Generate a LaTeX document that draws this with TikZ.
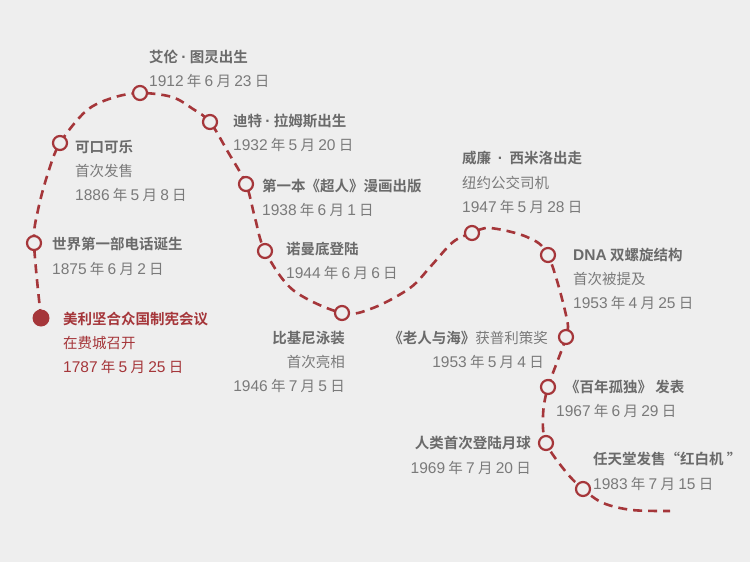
\documentclass[tikz,border=0pt]{standalone}
\usepackage{fontspec}
\setmainfont{Noto Sans CJK SC}[BoldFont={Noto Sans CJK SC Bold}]
\newfontfamily\latin{Liberation Sans}[Scale=1.07]
\newcommand\dte[3]{{\latin #1} 年 {\latin #2} 月 {\latin #3} 日}
\newcommand\mdot{{\latin ·}}
\definecolor{bg}{HTML}{EEEEEE}
\definecolor{tred}{HTML}{A5363A}
\definecolor{tgray}{HTML}{6A6A6A}
\definecolor{dgray}{HTML}{7A7A7A}
\begin{document}
\begin{tikzpicture}[x=1pt,y=-1pt,
  ttl/.style={font=\fontsize{14.5}{17}\selectfont\bfseries, text=tgray, inner sep=0pt, anchor=west},
  sub/.style={font=\fontsize{14.5}{17}\selectfont, text=dgray, inner sep=0pt, anchor=west},
  rttl/.style={ttl, anchor=east},
  rsub/.style={sub, anchor=east},
  redttl/.style={ttl, text=tred},
  redsub/.style={sub, text=tred},
  evt/.style={circle, draw=tred, line width=2.2pt, fill=bg, minimum size=14pt, inner sep=0pt},
  startevt/.style={circle, fill=tred, minimum size=17pt, inner sep=0pt},
  curve/.style={draw=tred, line width=2.6pt, dash pattern=on 9pt off 6pt}]
\fill[bg] (0,0) rectangle (750,562);
\useasboundingbox (0,0) rectangle (750,562);
% marker centres
\coordinate (c0) at (41,318);
\coordinate (c1) at (34,243);
\coordinate (c2) at (60,143);
\coordinate (c3) at (140,93);
\coordinate (c4) at (210,122);
\coordinate (c5) at (246,184);
\coordinate (c6) at (265,251);
\coordinate (c7) at (342,313);
\coordinate (c8) at (472,233);
\coordinate (c9) at (548,255);
\coordinate (c10) at (566,337);
\coordinate (c11) at (548,387);
\coordinate (c12) at (546,443);
\coordinate (c13) at (583,489);
\coordinate (cend) at (670,511);
% way points along the curve
\coordinate (wa) at (38,210);
\coordinate (wb) at (48,173);
\coordinate (wp) at (86,111);
\coordinate (wq) at (112,98);
\coordinate (wr) at (172,97);
\coordinate (ws) at (193,109);
\coordinate (wt) at (228,152);
\coordinate (wu) at (255,218);
\coordinate (wc) at (293,290);
\coordinate (wd) at (373,308);
\coordinate (we) at (410,288);
\coordinate (wf) at (431,266);
\coordinate (wg) at (453,242);
\coordinate (wh) at (490,228);
\coordinate (wi) at (527,237);
\coordinate (wj) at (566,315);
\coordinate (wk) at (543,416);
\coordinate (wl) at (566,472);
\coordinate (wm) at (603,503);
\coordinate (wn) at (632,510);
\draw[curve] plot[smooth, tension=0.55] coordinates {(c0) (c1) (wa) (wb) (c2) (wp) (wq) (c3) (wr) (ws) (c4) (wt) (c5) (wu) (c6) (wc) (c7) (wd) (we) (wf) (wg) (c8) (wh) (wi) (c9) (wj) (c10) (c11) (wk) (c12) (wl) (c13) (wm) (wn) (cend)};
% markers
\node[startevt] (m0) at (c0) {};
\node[evt] (m1) at (c1) {};
\node[evt] (m2) at (c2) {};
\node[evt] (m3) at (c3) {};
\node[evt] (m4) at (c4) {};
\node[evt] (m5) at (c5) {};
\node[evt] (m6) at (c6) {};
\node[evt] (m7) at (c7) {};
\node[evt] (m8) at (c8) {};
\node[evt] (m9) at (c9) {};
\node[evt] (m10) at (c10) {};
\node[evt] (m11) at (c11) {};
\node[evt] (m12) at (c12) {};
\node[evt] (m13) at (c13) {};
% labels
\node[redttl] (t0) at (63,319) {美利坚合众国制宪会议};
\node[redsub] (s0a) at (63,343) {在费城召开};
\node[redsub] (s0b) at (63,367) {\dte{1787}{5}{25}};

\node[ttl] (t1) at (52,244) {世界第一部电话诞生};
\node[sub] (s1) at (52,269) {\dte{1875}{6}{2}};

\node[ttl] (t2) at (75,147) {可口可乐};
\node[sub] (s2a) at (75,171) {首次发售};
\node[sub] (s2b) at (75,195) {\dte{1886}{5}{8}};

\node[ttl] (t3) at (149,57) {艾伦 \mdot\ 图灵出生};
\node[sub] (s3) at (149,81) {\dte{1912}{6}{23}};

\node[ttl] (t4) at (233,121) {迪特 \mdot\ 拉姆斯出生};
\node[sub] (s4) at (233,145) {\dte{1932}{5}{20}};

\node[ttl] (t5) at (262,186) {第一本《超人》漫画出版};
\node[sub] (s5) at (262,210) {\dte{1938}{6}{1}};

\node[ttl] (t6) at (286,249) {诺曼底登陆};
\node[sub] (s6) at (286,273) {\dte{1944}{6}{6}};

\node[rttl] (t7) at (345,338) {比基尼泳装};
\node[rsub] (s7a) at (345,362) {首次亮相};
\node[rsub] (s7b) at (345,386) {\dte{1946}{7}{5}};

\node[ttl] (t8) at (462,158) {威廉 \ \mdot\ \ 西米洛出走};
\node[sub] (s8a) at (462,183) {纽约公交司机};
\node[sub] (s8b) at (462,207) {\dte{1947}{5}{28}};

\node[ttl] (t9) at (573,255) {{\latin DNA} 双螺旋结构};
\node[sub] (s9a) at (573,279) {首次被提及};
\node[sub] (s9b) at (573,303) {\dte{1953}{4}{25}};

\node[rsub] (t10) at (548,338) {\textbf{\color{tgray}《老人与海》}获普利策奖};
\node[rsub] (s10) at (544,362) {\dte{1953}{5}{4}};

\node[ttl] (t11) at (565,387) {《百年孤独》 发表};
\node[sub] (s11) at (556,411) {\dte{1967}{6}{29}};

\node[rttl] (t12) at (531,443) {人类首次登陆月球};
\node[rsub] (s12) at (531,468) {\dte{1969}{7}{20}};

\node[ttl] (t13) at (593,459) {任天堂发售“红白机 ”};
\node[sub] (s13) at (593,484) {\dte{1983}{7}{15}};
\end{tikzpicture}
\end{document}
